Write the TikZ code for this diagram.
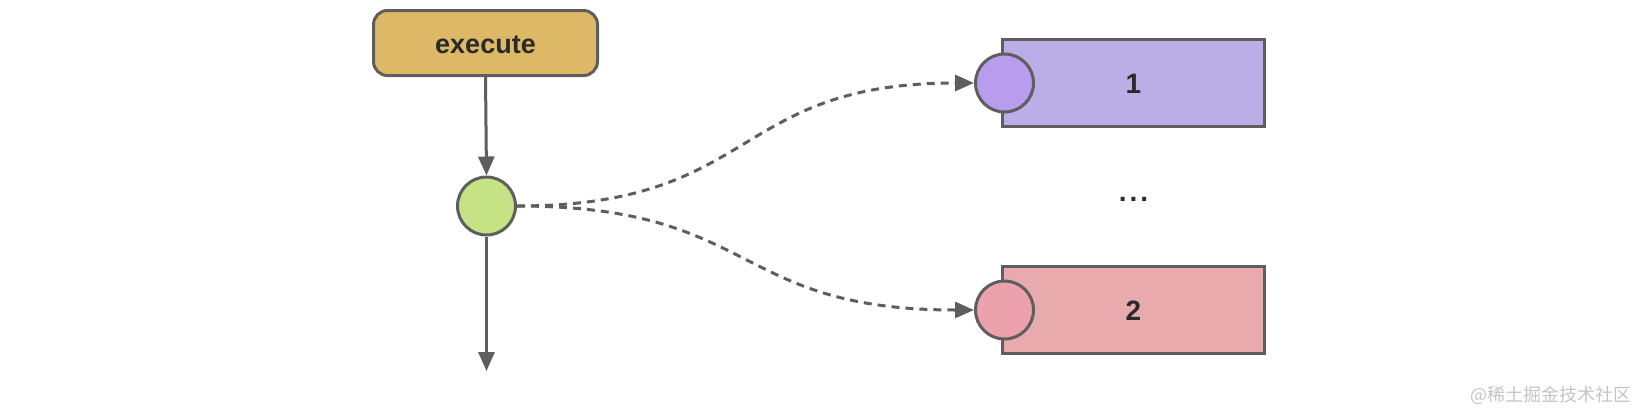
\documentclass[tikz,border=0pt]{standalone}
\usepackage{fontspec}
\setmainfont{Liberation Sans}
\newfontfamily\cjk{Noto Sans CJK SC}
\usetikzlibrary{arrows.meta}
\definecolor{strokeg}{HTML}{5E5E5E}
\definecolor{txt}{HTML}{2A2A2A}
\definecolor{execfill}{HTML}{DDB866}
\definecolor{greenfill}{HTML}{C5E384}
\definecolor{purbox}{HTML}{BBAEE6}
\definecolor{purcirc}{HTML}{B89CEE}
\definecolor{pinkbox}{HTML}{E8AAAD}
\definecolor{pinkcirc}{HTML}{EDA1AD}
\definecolor{wm}{HTML}{C4C4C4}
\tikzset{
  outl/.style={draw=strokeg, line width=3pt},
  execbox/.style={outl, fill=execfill, rounded corners=14pt, minimum width=224pt, minimum height=65pt, inner sep=0pt, font=\fontsize{27}{30}\selectfont\bfseries, text=txt, text height=21pt, text depth=0pt},
  slot/.style={outl, rectangle, minimum width=262pt, minimum height=87pt, inner sep=0pt, font=\fontsize{28}{30}\selectfont\bfseries, text=txt, text height=21pt, text depth=0pt},
  port/.style={outl, circle, minimum size=58pt, inner sep=0pt},
  flow/.style={draw=strokeg, line width=3pt, -{Triangle[length=19pt,width=16pt]}},
  dflow/.style={draw=strokeg, line width=3pt, dash pattern=on 8pt off 6pt, -{Triangle[length=19pt,width=16pt]}}
}
\begin{document}
\begin{tikzpicture}[x=1pt,y=-1pt]
\useasboundingbox (0,0) rectangle (1636,413);
\node[execbox] (ex) at (485.5,43) {execute};
\node[port, fill=greenfill] (g) at (486.5,206) {};
\coordinate (end) at (486.5,371);
\node[slot, fill=purbox] (b1) at (1133.5,83) {1};
\node[port, fill=purcirc] (c1) at (1004.5,83) {};
\node[slot, fill=pinkbox] (b2) at (1133.5,310) {2};
\node[port, fill=pinkcirc] (c2) at (1004.5,310) {};
\node[font=\fontsize{28}{30}\selectfont\bfseries, text=txt, text height=6pt, text depth=0pt, inner sep=0pt] (dots) at (1133.5,198) {.\hspace{3pt}.\hspace{3pt}.};
\draw[flow] (ex.south) -- (g.north);
\draw[flow] (g.south) -- (end);
\draw[dflow] (g.east) .. controls (760,206) and (730,83) .. (c1.west);
\draw[dflow] (g.east) .. controls (760,206) and (730,310) .. (c2.west);
\node[anchor=east, text=wm, font=\cjk\fontsize{18}{20}\selectfont, inner sep=0pt] (wmk) at (1632,395) {@稀土掘金技术社区};
\end{tikzpicture}
\end{document}
